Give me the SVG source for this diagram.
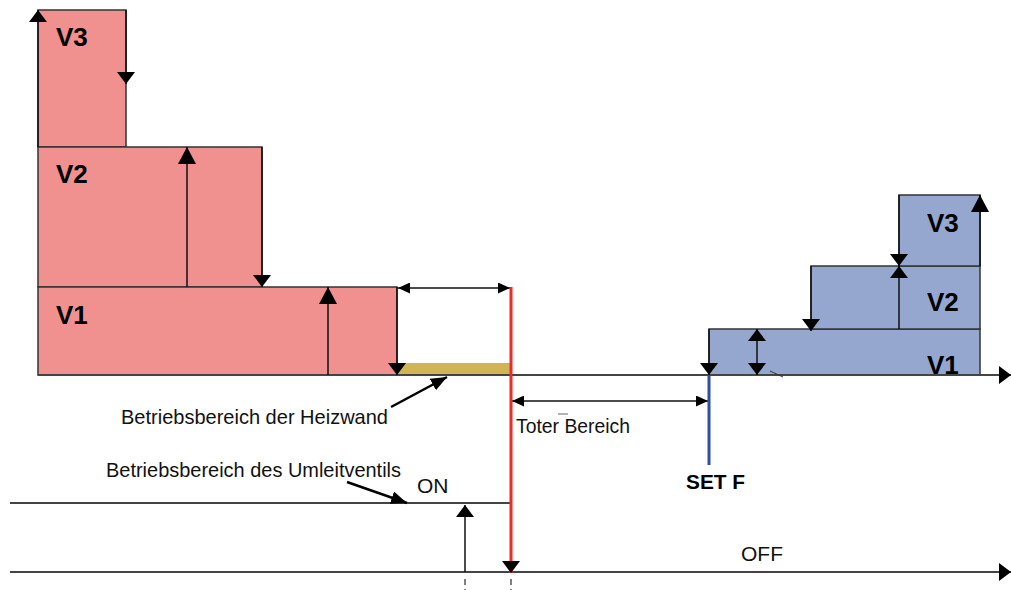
<svg xmlns="http://www.w3.org/2000/svg" width="1011" height="590" viewBox="0 0 1011 590">
<style>
.red{fill:#F09190;stroke:#333;stroke-width:1.5}
.blue{fill:#95A7CF;stroke:#333;stroke-width:1.5}
.vl{font-family:"Liberation Sans",Arial,sans-serif;font-weight:bold;font-size:26px;fill:#000}
.tx{font-family:"Liberation Sans",Arial,sans-serif;font-size:21px;fill:#111}
.ln{stroke:#111;stroke-width:1.5;fill:none}
.ax{stroke:#444;stroke-width:2;fill:none}
.ptr{stroke:#000;stroke-width:2.5;fill:none}
</style>
<defs>
<marker id="ah" viewBox="0 0 12 18" refX="12" refY="9" markerWidth="12" markerHeight="18" markerUnits="userSpaceOnUse" orient="auto-start-reverse"><path d="M0,0 L12,9 L0,18 z" fill="#000"/></marker>
<marker id="ahl" viewBox="0 0 17 18" refX="17" refY="9" markerWidth="17" markerHeight="18" markerUnits="userSpaceOnUse" orient="auto-start-reverse"><path d="M0,0 L17,9 L0,18 z" fill="#000"/></marker>
<marker id="ahs" viewBox="0 0 12 11" refX="12" refY="5.5" markerWidth="12" markerHeight="11" markerUnits="userSpaceOnUse" orient="auto-start-reverse"><path d="M0,0 L12,5.5 L0,11 z" fill="#000"/></marker>
<marker id="big" viewBox="0 0 12 18" refX="12" refY="9" markerWidth="12" markerHeight="18" markerUnits="userSpaceOnUse" orient="auto"><path d="M0,0 L12,9 L0,18 z" fill="#000"/></marker>
<marker id="pa" viewBox="0 0 16 13" refX="16" refY="6.5" markerWidth="16" markerHeight="13" markerUnits="userSpaceOnUse" orient="auto"><path d="M0,0 L16,6.5 L0,13 z" fill="#000"/></marker>
</defs>

<g id="heat-v3"><rect class="red" x="38" y="10" width="88" height="137"/><text class="vl" x="56" y="46">V3</text></g>
<g id="heat-v2"><rect class="red" x="38" y="147" width="224" height="140"/><text class="vl" x="56" y="183">V2</text></g>
<g id="heat-v1"><rect class="red" x="38" y="287" width="359" height="88"/><text class="vl" x="56" y="324">V1</text></g>
<g id="heizwand-range"><rect x="397" y="363" width="114" height="12" fill="#D3B455"/></g>

<g id="cool-v1"><rect class="blue" x="709" y="329" width="271" height="46"/><text class="vl" x="927" y="374">V1</text></g>
<g id="cool-v2"><rect class="blue" x="811" y="266" width="169" height="63"/><text class="vl" x="927" y="311">V2</text></g>
<g id="cool-v3"><rect class="blue" x="899" y="195" width="81" height="71"/><text class="vl" x="927" y="232">V3</text></g>

<g id="connectors">
<line class="ax" x1="38" y1="375" x2="1011" y2="375" marker-end="url(#big)"/>
<line class="ax" x1="10" y1="572" x2="1011" y2="572" marker-end="url(#big)"/>
<line class="ax" x1="10" y1="503" x2="511" y2="503"/>
<line class="ln" x1="38" y1="147" x2="38" y2="10" marker-end="url(#ah)"/>
<line class="ln" x1="126" y1="10" x2="126" y2="84" marker-end="url(#ah)"/>
<line class="ln" x1="187" y1="287" x2="187" y2="147" marker-end="url(#ahl)"/>
<line class="ln" x1="262" y1="147" x2="262" y2="287" marker-end="url(#ah)"/>
<line class="ln" x1="328" y1="375" x2="328" y2="287" marker-end="url(#ahl)"/>
<line class="ln" x1="397" y1="287" x2="397" y2="375" marker-end="url(#ah)"/>
<line class="ln" x1="398" y1="288" x2="510" y2="288" marker-start="url(#ahs)" marker-end="url(#ahs)"/>
<line class="ln" x1="512" y1="401" x2="708" y2="401" marker-start="url(#ahs)" marker-end="url(#ahs)"/>
<line class="ln" x1="709" y1="329" x2="709" y2="375" marker-end="url(#ah)"/>
<line class="ln" x1="757" y1="329" x2="757" y2="375" marker-start="url(#ah)" marker-end="url(#ah)"/>
<line class="ln" x1="811" y1="266" x2="811" y2="331" marker-end="url(#ah)"/>
<line class="ln" x1="899" y1="329" x2="899" y2="266" marker-end="url(#ah)"/>
<line class="ln" x1="899" y1="195" x2="899" y2="266" marker-end="url(#ah)"/>
<line class="ln" x1="980" y1="266" x2="980" y2="195" marker-end="url(#ahl)"/>
<line x1="770" y1="371" x2="783" y2="377" stroke="#333" stroke-width="1"/>
<line x1="511" y1="287" x2="511" y2="573" stroke="#EE2B2B" stroke-width="3" marker-end="url(#ah)"/>
<line x1="709" y1="375" x2="709" y2="465" stroke="#2E4FA3" stroke-width="3"/>
<line class="ln" x1="465" y1="572" x2="465" y2="505" marker-end="url(#ah)"/>
<line x1="465" y1="579" x2="465" y2="590" stroke="#555" stroke-width="1.5" stroke-dasharray="6,4"/>
<line x1="511" y1="579" x2="511" y2="590" stroke="#555" stroke-width="1.5" stroke-dasharray="6,4"/>
<line class="ptr" x1="391" y1="407" x2="447" y2="377" marker-end="url(#pa)"/>
<line class="ptr" x1="347" y1="482" x2="407" y2="503" marker-end="url(#pa)"/>
<line x1="558" y1="414" x2="568" y2="414" stroke="#666" stroke-width="1"/>
</g>

<g id="labels">
<text class="tx" x="121" y="424" textLength="267" lengthAdjust="spacingAndGlyphs">Betriebsbereich der Heizwand</text>
<text class="tx" x="106" y="477" textLength="295" lengthAdjust="spacingAndGlyphs">Betriebsbereich des Umleitventils</text>
<text class="tx" x="417" y="493">ON</text>
<text class="tx" x="516" y="433" textLength="114" lengthAdjust="spacingAndGlyphs">Toter Bereich</text>
<text x="686" y="489" font-family="Liberation Sans,Arial,sans-serif" font-weight="bold" font-size="20" textLength="59" lengthAdjust="spacingAndGlyphs">SET F</text>
<text class="tx" x="741" y="561">OFF</text>
</g>
</svg>
